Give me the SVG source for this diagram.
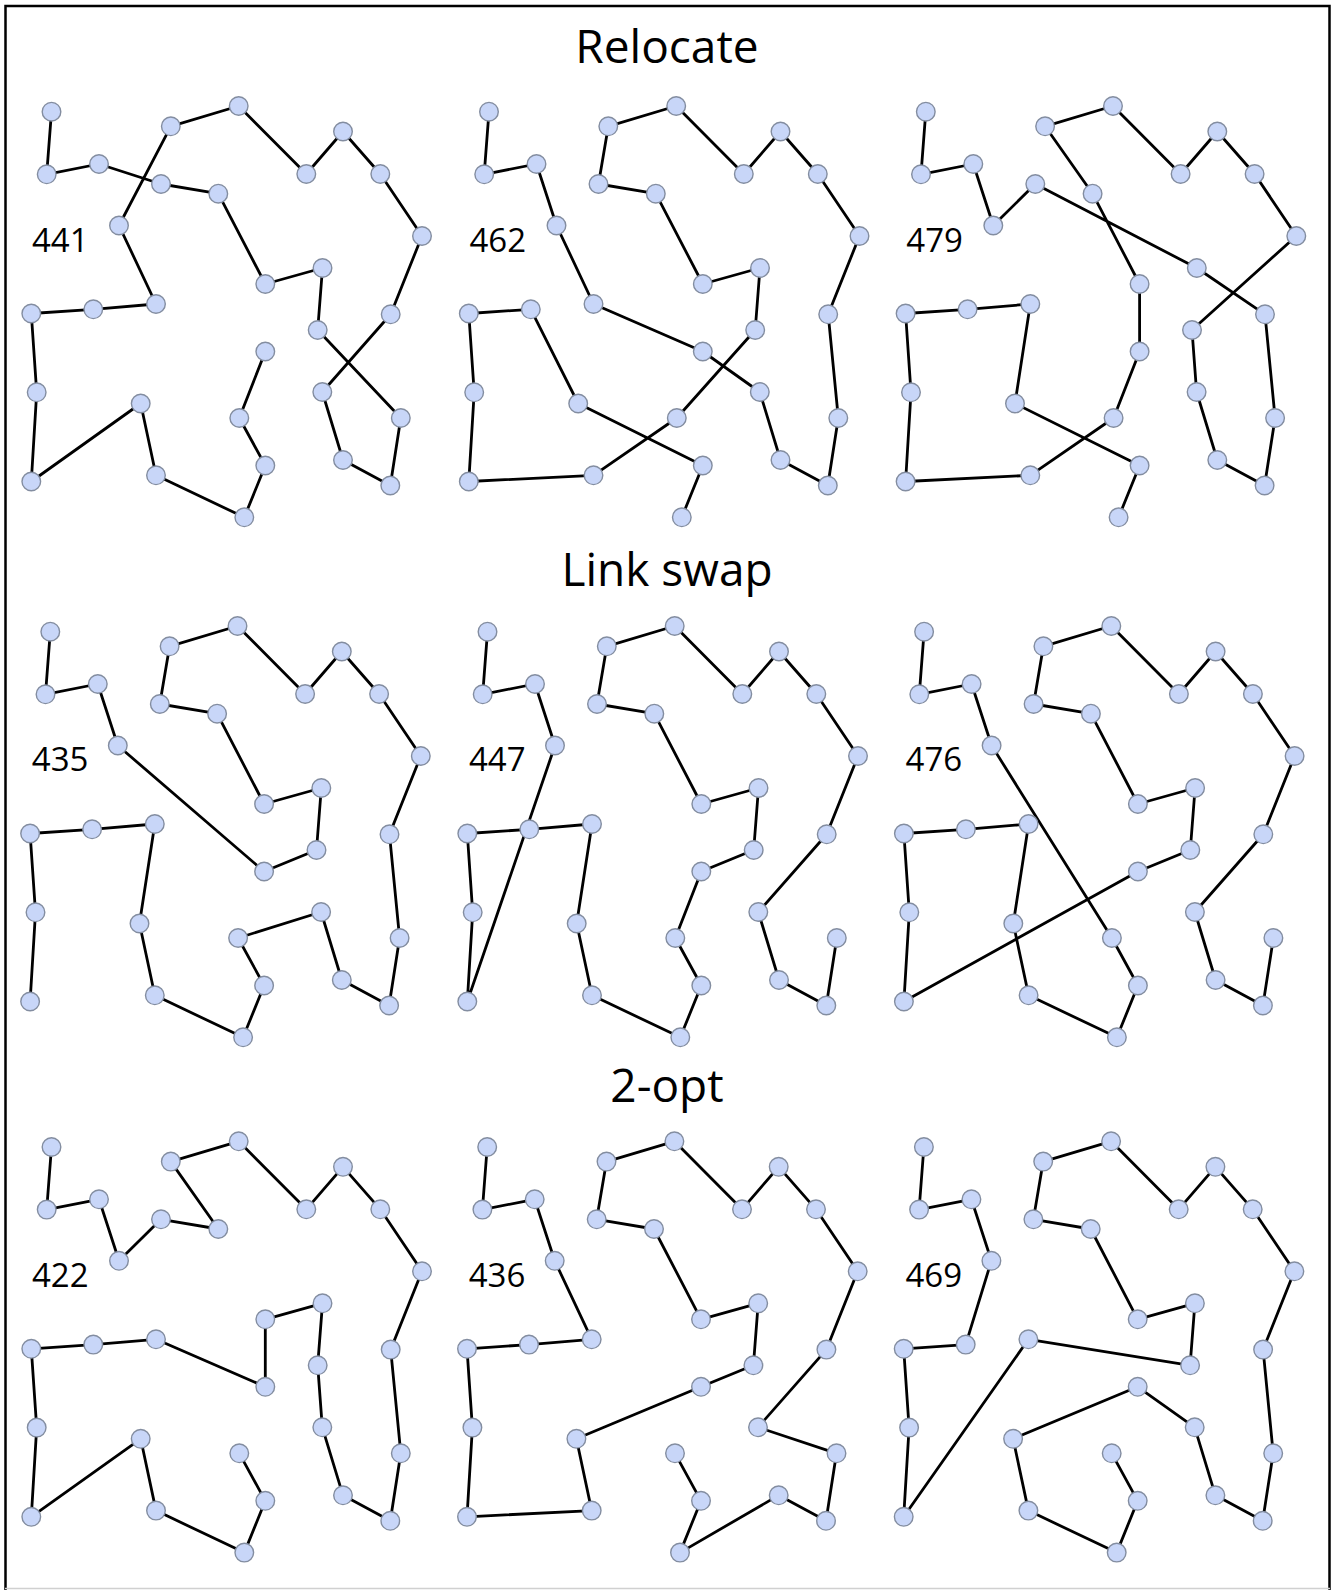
<svg xmlns="http://www.w3.org/2000/svg" width="1333" height="1590" viewBox="0 0 1333 1590">
<style>
.e{fill:none;stroke:#000;stroke-width:2.8;stroke-linejoin:round;stroke-linecap:round}
.n circle{fill:#c8d6f8;stroke:#838da0;stroke-width:1.4}
.t{font-family:"Open Sans","Liberation Sans",sans-serif;font-size:46px;fill:#000;text-anchor:middle}
.l{font-family:"Open Sans","Liberation Sans",sans-serif;font-size:33px;fill:#000}
.b{stroke:#000;stroke-width:2.5;fill:none}
</style>
<rect width="1333" height="1590" fill="#fff"/>
<g id="border">
<path class="b" d="M5.5,1590 V6 H1329.5 V1590"/>
<line x1="5" y1="1588.5" x2="1330" y2="1588.5" stroke="#d0d0d0" stroke-width="1.5"/>
</g>
<text class="t" x="667" y="63">Relocate</text>
<text class="t" x="667" y="586">Link swap</text>
<text class="t" x="667" y="1102">2-opt</text>

<g id="p11" transform="translate(0,0)">
<g id="p11-connectors"><polyline class="e" points="51.5,111.7 46.7,174.3 99,164 161,184 218.3,193.7 265.3,284 322.5,268 317.7,330 400.8,418 390.3,485.5 343,460 322.3,392 390.7,314.3 422,236 380.3,174 343,131.5 306.3,174 238.7,106 170.8,126.3 119,225.5 156,304 93.3,309.3 31.3,313.5 36.7,392.3 31.3,481.5 140.7,403.5 156,475.3 244.3,517.3 265.3,465.5 239.3,418 265.3,351.5"/></g>
<g class="n">
<g id="p11-A"><circle cx="51.5" cy="111.7" r="9.3"/></g><g id="p11-B"><circle cx="46.7" cy="174.3" r="9.3"/></g><g id="p11-C"><circle cx="99" cy="164" r="9.3"/></g><g id="p11-D"><circle cx="161" cy="184" r="9.3"/></g><g id="p11-E"><circle cx="218.3" cy="193.7" r="9.3"/></g><g id="p11-F"><circle cx="265.3" cy="284" r="9.3"/></g><g id="p11-G"><circle cx="322.5" cy="268" r="9.3"/></g><g id="p11-H"><circle cx="317.7" cy="330" r="9.3"/></g><g id="p11-I"><circle cx="400.8" cy="418" r="9.3"/></g><g id="p11-J"><circle cx="390.3" cy="485.5" r="9.3"/></g><g id="p11-K"><circle cx="343" cy="460" r="9.3"/></g><g id="p11-L"><circle cx="322.3" cy="392" r="9.3"/></g><g id="p11-M"><circle cx="390.7" cy="314.3" r="9.3"/></g><g id="p11-N"><circle cx="422" cy="236" r="9.3"/></g><g id="p11-O"><circle cx="380.3" cy="174" r="9.3"/></g><g id="p11-P"><circle cx="343" cy="131.5" r="9.3"/></g><g id="p11-Q"><circle cx="306.3" cy="174" r="9.3"/></g><g id="p11-R"><circle cx="238.7" cy="106" r="9.3"/></g><g id="p11-S"><circle cx="170.8" cy="126.3" r="9.3"/></g><g id="p11-T"><circle cx="119" cy="225.5" r="9.3"/></g><g id="p11-U"><circle cx="156" cy="304" r="9.3"/></g><g id="p11-V"><circle cx="93.3" cy="309.3" r="9.3"/></g><g id="p11-W"><circle cx="31.3" cy="313.5" r="9.3"/></g><g id="p11-X"><circle cx="36.7" cy="392.3" r="9.3"/></g><g id="p11-Y"><circle cx="31.3" cy="481.5" r="9.3"/></g><g id="p11-Z"><circle cx="140.7" cy="403.5" r="9.3"/></g><g id="p11-AA"><circle cx="156" cy="475.3" r="9.3"/></g><g id="p11-AB"><circle cx="244.3" cy="517.3" r="9.3"/></g><g id="p11-AC"><circle cx="265.3" cy="465.5" r="9.3"/></g><g id="p11-AD"><circle cx="239.3" cy="418" r="9.3"/></g><g id="p11-AE"><circle cx="265.3" cy="351.5" r="9.3"/></g>
</g>
<text class="l" x="32" y="251.5">441</text>
</g>

<g id="p12" transform="translate(437.5,0)">
<g id="p12-connectors"><polyline class="e" points="51.5,111.7 46.7,174.3 99,164 119,225.5 156,304 265.3,351.5 322.3,392 343,460 390.3,485.5 400.8,418 390.7,314.3 422,236 380.3,174 343,131.5 306.3,174 238.7,106 170.8,126.3 161,184 218.3,193.7 265.3,284 322.5,268 317.7,330 239.3,418 156,475.3 31.3,481.5 36.7,392.3 31.3,313.5 93.3,309.3 140.7,403.5 265.3,465.5 244.3,517.3"/></g>
<g class="n">
<g id="p12-A"><circle cx="51.5" cy="111.7" r="9.3"/></g><g id="p12-B"><circle cx="46.7" cy="174.3" r="9.3"/></g><g id="p12-C"><circle cx="99" cy="164" r="9.3"/></g><g id="p12-D"><circle cx="161" cy="184" r="9.3"/></g><g id="p12-E"><circle cx="218.3" cy="193.7" r="9.3"/></g><g id="p12-F"><circle cx="265.3" cy="284" r="9.3"/></g><g id="p12-G"><circle cx="322.5" cy="268" r="9.3"/></g><g id="p12-H"><circle cx="317.7" cy="330" r="9.3"/></g><g id="p12-I"><circle cx="400.8" cy="418" r="9.3"/></g><g id="p12-J"><circle cx="390.3" cy="485.5" r="9.3"/></g><g id="p12-K"><circle cx="343" cy="460" r="9.3"/></g><g id="p12-L"><circle cx="322.3" cy="392" r="9.3"/></g><g id="p12-M"><circle cx="390.7" cy="314.3" r="9.3"/></g><g id="p12-N"><circle cx="422" cy="236" r="9.3"/></g><g id="p12-O"><circle cx="380.3" cy="174" r="9.3"/></g><g id="p12-P"><circle cx="343" cy="131.5" r="9.3"/></g><g id="p12-Q"><circle cx="306.3" cy="174" r="9.3"/></g><g id="p12-R"><circle cx="238.7" cy="106" r="9.3"/></g><g id="p12-S"><circle cx="170.8" cy="126.3" r="9.3"/></g><g id="p12-T"><circle cx="119" cy="225.5" r="9.3"/></g><g id="p12-U"><circle cx="156" cy="304" r="9.3"/></g><g id="p12-V"><circle cx="93.3" cy="309.3" r="9.3"/></g><g id="p12-W"><circle cx="31.3" cy="313.5" r="9.3"/></g><g id="p12-X"><circle cx="36.7" cy="392.3" r="9.3"/></g><g id="p12-Y"><circle cx="31.3" cy="481.5" r="9.3"/></g><g id="p12-Z"><circle cx="140.7" cy="403.5" r="9.3"/></g><g id="p12-AA"><circle cx="156" cy="475.3" r="9.3"/></g><g id="p12-AB"><circle cx="244.3" cy="517.3" r="9.3"/></g><g id="p12-AC"><circle cx="265.3" cy="465.5" r="9.3"/></g><g id="p12-AD"><circle cx="239.3" cy="418" r="9.3"/></g><g id="p12-AE"><circle cx="265.3" cy="351.5" r="9.3"/></g>
</g>
<text class="l" x="32" y="251.5">462</text>
</g>

<g id="p13" transform="translate(874.3,0)">
<g id="p13-connectors"><polyline class="e" points="51.5,111.7 46.7,174.3 99,164 119,225.5 161,184 322.5,268 390.7,314.3 400.8,418 390.3,485.5 343,460 322.3,392 317.7,330 422,236 380.3,174 343,131.5 306.3,174 238.7,106 170.8,126.3 218.3,193.7 265.3,284 265.3,351.5 239.3,418 156,475.3 31.3,481.5 36.7,392.3 31.3,313.5 93.3,309.3 156,304 140.7,403.5 265.3,465.5 244.3,517.3"/></g>
<g class="n">
<g id="p13-A"><circle cx="51.5" cy="111.7" r="9.3"/></g><g id="p13-B"><circle cx="46.7" cy="174.3" r="9.3"/></g><g id="p13-C"><circle cx="99" cy="164" r="9.3"/></g><g id="p13-D"><circle cx="161" cy="184" r="9.3"/></g><g id="p13-E"><circle cx="218.3" cy="193.7" r="9.3"/></g><g id="p13-F"><circle cx="265.3" cy="284" r="9.3"/></g><g id="p13-G"><circle cx="322.5" cy="268" r="9.3"/></g><g id="p13-H"><circle cx="317.7" cy="330" r="9.3"/></g><g id="p13-I"><circle cx="400.8" cy="418" r="9.3"/></g><g id="p13-J"><circle cx="390.3" cy="485.5" r="9.3"/></g><g id="p13-K"><circle cx="343" cy="460" r="9.3"/></g><g id="p13-L"><circle cx="322.3" cy="392" r="9.3"/></g><g id="p13-M"><circle cx="390.7" cy="314.3" r="9.3"/></g><g id="p13-N"><circle cx="422" cy="236" r="9.3"/></g><g id="p13-O"><circle cx="380.3" cy="174" r="9.3"/></g><g id="p13-P"><circle cx="343" cy="131.5" r="9.3"/></g><g id="p13-Q"><circle cx="306.3" cy="174" r="9.3"/></g><g id="p13-R"><circle cx="238.7" cy="106" r="9.3"/></g><g id="p13-S"><circle cx="170.8" cy="126.3" r="9.3"/></g><g id="p13-T"><circle cx="119" cy="225.5" r="9.3"/></g><g id="p13-U"><circle cx="156" cy="304" r="9.3"/></g><g id="p13-V"><circle cx="93.3" cy="309.3" r="9.3"/></g><g id="p13-W"><circle cx="31.3" cy="313.5" r="9.3"/></g><g id="p13-X"><circle cx="36.7" cy="392.3" r="9.3"/></g><g id="p13-Y"><circle cx="31.3" cy="481.5" r="9.3"/></g><g id="p13-Z"><circle cx="140.7" cy="403.5" r="9.3"/></g><g id="p13-AA"><circle cx="156" cy="475.3" r="9.3"/></g><g id="p13-AB"><circle cx="244.3" cy="517.3" r="9.3"/></g><g id="p13-AC"><circle cx="265.3" cy="465.5" r="9.3"/></g><g id="p13-AD"><circle cx="239.3" cy="418" r="9.3"/></g><g id="p13-AE"><circle cx="265.3" cy="351.5" r="9.3"/></g>
</g>
<text class="l" x="32" y="251.5">479</text>
</g>

<g id="p21" transform="translate(-1.2,520)">
<g id="p21-connectors"><polyline class="e" points="51.5,111.7 46.7,174.3 99,164 119,225.5 265.3,351.5 317.7,330 322.5,268 265.3,284 218.3,193.7 161,184 170.8,126.3 238.7,106 306.3,174 343,131.5 380.3,174 422,236 390.7,314.3 400.8,418 390.3,485.5 343,460 322.3,392 239.3,418 265.3,465.5 244.3,517.3 156,475.3 140.7,403.5 156,304 93.3,309.3 31.3,313.5 36.7,392.3 31.3,481.5"/></g>
<g class="n">
<g id="p21-A"><circle cx="51.5" cy="111.7" r="9.3"/></g><g id="p21-B"><circle cx="46.7" cy="174.3" r="9.3"/></g><g id="p21-C"><circle cx="99" cy="164" r="9.3"/></g><g id="p21-D"><circle cx="161" cy="184" r="9.3"/></g><g id="p21-E"><circle cx="218.3" cy="193.7" r="9.3"/></g><g id="p21-F"><circle cx="265.3" cy="284" r="9.3"/></g><g id="p21-G"><circle cx="322.5" cy="268" r="9.3"/></g><g id="p21-H"><circle cx="317.7" cy="330" r="9.3"/></g><g id="p21-I"><circle cx="400.8" cy="418" r="9.3"/></g><g id="p21-J"><circle cx="390.3" cy="485.5" r="9.3"/></g><g id="p21-K"><circle cx="343" cy="460" r="9.3"/></g><g id="p21-L"><circle cx="322.3" cy="392" r="9.3"/></g><g id="p21-M"><circle cx="390.7" cy="314.3" r="9.3"/></g><g id="p21-N"><circle cx="422" cy="236" r="9.3"/></g><g id="p21-O"><circle cx="380.3" cy="174" r="9.3"/></g><g id="p21-P"><circle cx="343" cy="131.5" r="9.3"/></g><g id="p21-Q"><circle cx="306.3" cy="174" r="9.3"/></g><g id="p21-R"><circle cx="238.7" cy="106" r="9.3"/></g><g id="p21-S"><circle cx="170.8" cy="126.3" r="9.3"/></g><g id="p21-T"><circle cx="119" cy="225.5" r="9.3"/></g><g id="p21-U"><circle cx="156" cy="304" r="9.3"/></g><g id="p21-V"><circle cx="93.3" cy="309.3" r="9.3"/></g><g id="p21-W"><circle cx="31.3" cy="313.5" r="9.3"/></g><g id="p21-X"><circle cx="36.7" cy="392.3" r="9.3"/></g><g id="p21-Y"><circle cx="31.3" cy="481.5" r="9.3"/></g><g id="p21-Z"><circle cx="140.7" cy="403.5" r="9.3"/></g><g id="p21-AA"><circle cx="156" cy="475.3" r="9.3"/></g><g id="p21-AB"><circle cx="244.3" cy="517.3" r="9.3"/></g><g id="p21-AC"><circle cx="265.3" cy="465.5" r="9.3"/></g><g id="p21-AD"><circle cx="239.3" cy="418" r="9.3"/></g><g id="p21-AE"><circle cx="265.3" cy="351.5" r="9.3"/></g>
</g>
<text class="l" x="33" y="251">435</text>
</g>

<g id="p22" transform="translate(436,520)">
<g id="p22-connectors"><polyline class="e" points="51.5,111.7 46.7,174.3 99,164 119,225.5 31.3,481.5 36.7,392.3 31.3,313.5 93.3,309.3 156,304 140.7,403.5 156,475.3 244.3,517.3 265.3,465.5 239.3,418 265.3,351.5 317.7,330 322.5,268 265.3,284 218.3,193.7 161,184 170.8,126.3 238.7,106 306.3,174 343,131.5 380.3,174 422,236 390.7,314.3 322.3,392 343,460 390.3,485.5 400.8,418"/></g>
<g class="n">
<g id="p22-A"><circle cx="51.5" cy="111.7" r="9.3"/></g><g id="p22-B"><circle cx="46.7" cy="174.3" r="9.3"/></g><g id="p22-C"><circle cx="99" cy="164" r="9.3"/></g><g id="p22-D"><circle cx="161" cy="184" r="9.3"/></g><g id="p22-E"><circle cx="218.3" cy="193.7" r="9.3"/></g><g id="p22-F"><circle cx="265.3" cy="284" r="9.3"/></g><g id="p22-G"><circle cx="322.5" cy="268" r="9.3"/></g><g id="p22-H"><circle cx="317.7" cy="330" r="9.3"/></g><g id="p22-I"><circle cx="400.8" cy="418" r="9.3"/></g><g id="p22-J"><circle cx="390.3" cy="485.5" r="9.3"/></g><g id="p22-K"><circle cx="343" cy="460" r="9.3"/></g><g id="p22-L"><circle cx="322.3" cy="392" r="9.3"/></g><g id="p22-M"><circle cx="390.7" cy="314.3" r="9.3"/></g><g id="p22-N"><circle cx="422" cy="236" r="9.3"/></g><g id="p22-O"><circle cx="380.3" cy="174" r="9.3"/></g><g id="p22-P"><circle cx="343" cy="131.5" r="9.3"/></g><g id="p22-Q"><circle cx="306.3" cy="174" r="9.3"/></g><g id="p22-R"><circle cx="238.7" cy="106" r="9.3"/></g><g id="p22-S"><circle cx="170.8" cy="126.3" r="9.3"/></g><g id="p22-T"><circle cx="119" cy="225.5" r="9.3"/></g><g id="p22-U"><circle cx="156" cy="304" r="9.3"/></g><g id="p22-V"><circle cx="93.3" cy="309.3" r="9.3"/></g><g id="p22-W"><circle cx="31.3" cy="313.5" r="9.3"/></g><g id="p22-X"><circle cx="36.7" cy="392.3" r="9.3"/></g><g id="p22-Y"><circle cx="31.3" cy="481.5" r="9.3"/></g><g id="p22-Z"><circle cx="140.7" cy="403.5" r="9.3"/></g><g id="p22-AA"><circle cx="156" cy="475.3" r="9.3"/></g><g id="p22-AB"><circle cx="244.3" cy="517.3" r="9.3"/></g><g id="p22-AC"><circle cx="265.3" cy="465.5" r="9.3"/></g><g id="p22-AD"><circle cx="239.3" cy="418" r="9.3"/></g><g id="p22-AE"><circle cx="265.3" cy="351.5" r="9.3"/></g>
</g>
<text class="l" x="33" y="251">447</text>
</g>

<g id="p23" transform="translate(872.6,520)">
<g id="p23-connectors"><polyline class="e" points="51.5,111.7 46.7,174.3 99,164 119,225.5 239.3,418 265.3,465.5 244.3,517.3 156,475.3 140.7,403.5 156,304 93.3,309.3 31.3,313.5 36.7,392.3 31.3,481.5 265.3,351.5 317.7,330 322.5,268 265.3,284 218.3,193.7 161,184 170.8,126.3 238.7,106 306.3,174 343,131.5 380.3,174 422,236 390.7,314.3 322.3,392 343,460 390.3,485.5 400.8,418"/></g>
<g class="n">
<g id="p23-A"><circle cx="51.5" cy="111.7" r="9.3"/></g><g id="p23-B"><circle cx="46.7" cy="174.3" r="9.3"/></g><g id="p23-C"><circle cx="99" cy="164" r="9.3"/></g><g id="p23-D"><circle cx="161" cy="184" r="9.3"/></g><g id="p23-E"><circle cx="218.3" cy="193.7" r="9.3"/></g><g id="p23-F"><circle cx="265.3" cy="284" r="9.3"/></g><g id="p23-G"><circle cx="322.5" cy="268" r="9.3"/></g><g id="p23-H"><circle cx="317.7" cy="330" r="9.3"/></g><g id="p23-I"><circle cx="400.8" cy="418" r="9.3"/></g><g id="p23-J"><circle cx="390.3" cy="485.5" r="9.3"/></g><g id="p23-K"><circle cx="343" cy="460" r="9.3"/></g><g id="p23-L"><circle cx="322.3" cy="392" r="9.3"/></g><g id="p23-M"><circle cx="390.7" cy="314.3" r="9.3"/></g><g id="p23-N"><circle cx="422" cy="236" r="9.3"/></g><g id="p23-O"><circle cx="380.3" cy="174" r="9.3"/></g><g id="p23-P"><circle cx="343" cy="131.5" r="9.3"/></g><g id="p23-Q"><circle cx="306.3" cy="174" r="9.3"/></g><g id="p23-R"><circle cx="238.7" cy="106" r="9.3"/></g><g id="p23-S"><circle cx="170.8" cy="126.3" r="9.3"/></g><g id="p23-T"><circle cx="119" cy="225.5" r="9.3"/></g><g id="p23-U"><circle cx="156" cy="304" r="9.3"/></g><g id="p23-V"><circle cx="93.3" cy="309.3" r="9.3"/></g><g id="p23-W"><circle cx="31.3" cy="313.5" r="9.3"/></g><g id="p23-X"><circle cx="36.7" cy="392.3" r="9.3"/></g><g id="p23-Y"><circle cx="31.3" cy="481.5" r="9.3"/></g><g id="p23-Z"><circle cx="140.7" cy="403.5" r="9.3"/></g><g id="p23-AA"><circle cx="156" cy="475.3" r="9.3"/></g><g id="p23-AB"><circle cx="244.3" cy="517.3" r="9.3"/></g><g id="p23-AC"><circle cx="265.3" cy="465.5" r="9.3"/></g><g id="p23-AD"><circle cx="239.3" cy="418" r="9.3"/></g><g id="p23-AE"><circle cx="265.3" cy="351.5" r="9.3"/></g>
</g>
<text class="l" x="33" y="251">476</text>
</g>

<g id="p31" transform="translate(0,1035.3)">
<g id="p31-connectors"><polyline class="e" points="51.5,111.7 46.7,174.3 99,164 119,225.5 161,184 218.3,193.7 170.8,126.3 238.7,106 306.3,174 343,131.5 380.3,174 422,236 390.7,314.3 400.8,418 390.3,485.5 343,460 322.3,392 317.7,330 322.5,268 265.3,284 265.3,351.5 156,304 93.3,309.3 31.3,313.5 36.7,392.3 31.3,481.5 140.7,403.5 156,475.3 244.3,517.3 265.3,465.5 239.3,418"/></g>
<g class="n">
<g id="p31-A"><circle cx="51.5" cy="111.7" r="9.3"/></g><g id="p31-B"><circle cx="46.7" cy="174.3" r="9.3"/></g><g id="p31-C"><circle cx="99" cy="164" r="9.3"/></g><g id="p31-D"><circle cx="161" cy="184" r="9.3"/></g><g id="p31-E"><circle cx="218.3" cy="193.7" r="9.3"/></g><g id="p31-F"><circle cx="265.3" cy="284" r="9.3"/></g><g id="p31-G"><circle cx="322.5" cy="268" r="9.3"/></g><g id="p31-H"><circle cx="317.7" cy="330" r="9.3"/></g><g id="p31-I"><circle cx="400.8" cy="418" r="9.3"/></g><g id="p31-J"><circle cx="390.3" cy="485.5" r="9.3"/></g><g id="p31-K"><circle cx="343" cy="460" r="9.3"/></g><g id="p31-L"><circle cx="322.3" cy="392" r="9.3"/></g><g id="p31-M"><circle cx="390.7" cy="314.3" r="9.3"/></g><g id="p31-N"><circle cx="422" cy="236" r="9.3"/></g><g id="p31-O"><circle cx="380.3" cy="174" r="9.3"/></g><g id="p31-P"><circle cx="343" cy="131.5" r="9.3"/></g><g id="p31-Q"><circle cx="306.3" cy="174" r="9.3"/></g><g id="p31-R"><circle cx="238.7" cy="106" r="9.3"/></g><g id="p31-S"><circle cx="170.8" cy="126.3" r="9.3"/></g><g id="p31-T"><circle cx="119" cy="225.5" r="9.3"/></g><g id="p31-U"><circle cx="156" cy="304" r="9.3"/></g><g id="p31-V"><circle cx="93.3" cy="309.3" r="9.3"/></g><g id="p31-W"><circle cx="31.3" cy="313.5" r="9.3"/></g><g id="p31-X"><circle cx="36.7" cy="392.3" r="9.3"/></g><g id="p31-Y"><circle cx="31.3" cy="481.5" r="9.3"/></g><g id="p31-Z"><circle cx="140.7" cy="403.5" r="9.3"/></g><g id="p31-AA"><circle cx="156" cy="475.3" r="9.3"/></g><g id="p31-AB"><circle cx="244.3" cy="517.3" r="9.3"/></g><g id="p31-AC"><circle cx="265.3" cy="465.5" r="9.3"/></g><g id="p31-AD"><circle cx="239.3" cy="418" r="9.3"/></g><g id="p31-AE"><circle cx="265.3" cy="351.5" r="9.3"/></g>
</g>
<text class="l" x="32" y="251.5">422</text>
</g>

<g id="p32" transform="translate(435.7,1035.3)">
<g id="p32-connectors"><polyline class="e" points="51.5,111.7 46.7,174.3 99,164 119,225.5 156,304 93.3,309.3 31.3,313.5 36.7,392.3 31.3,481.5 156,475.3 140.7,403.5 265.3,351.5 317.7,330 322.5,268 265.3,284 218.3,193.7 161,184 170.8,126.3 238.7,106 306.3,174 343,131.5 380.3,174 422,236 390.7,314.3 322.3,392 400.8,418 390.3,485.5 343,460 244.3,517.3 265.3,465.5 239.3,418"/></g>
<g class="n">
<g id="p32-A"><circle cx="51.5" cy="111.7" r="9.3"/></g><g id="p32-B"><circle cx="46.7" cy="174.3" r="9.3"/></g><g id="p32-C"><circle cx="99" cy="164" r="9.3"/></g><g id="p32-D"><circle cx="161" cy="184" r="9.3"/></g><g id="p32-E"><circle cx="218.3" cy="193.7" r="9.3"/></g><g id="p32-F"><circle cx="265.3" cy="284" r="9.3"/></g><g id="p32-G"><circle cx="322.5" cy="268" r="9.3"/></g><g id="p32-H"><circle cx="317.7" cy="330" r="9.3"/></g><g id="p32-I"><circle cx="400.8" cy="418" r="9.3"/></g><g id="p32-J"><circle cx="390.3" cy="485.5" r="9.3"/></g><g id="p32-K"><circle cx="343" cy="460" r="9.3"/></g><g id="p32-L"><circle cx="322.3" cy="392" r="9.3"/></g><g id="p32-M"><circle cx="390.7" cy="314.3" r="9.3"/></g><g id="p32-N"><circle cx="422" cy="236" r="9.3"/></g><g id="p32-O"><circle cx="380.3" cy="174" r="9.3"/></g><g id="p32-P"><circle cx="343" cy="131.5" r="9.3"/></g><g id="p32-Q"><circle cx="306.3" cy="174" r="9.3"/></g><g id="p32-R"><circle cx="238.7" cy="106" r="9.3"/></g><g id="p32-S"><circle cx="170.8" cy="126.3" r="9.3"/></g><g id="p32-T"><circle cx="119" cy="225.5" r="9.3"/></g><g id="p32-U"><circle cx="156" cy="304" r="9.3"/></g><g id="p32-V"><circle cx="93.3" cy="309.3" r="9.3"/></g><g id="p32-W"><circle cx="31.3" cy="313.5" r="9.3"/></g><g id="p32-X"><circle cx="36.7" cy="392.3" r="9.3"/></g><g id="p32-Y"><circle cx="31.3" cy="481.5" r="9.3"/></g><g id="p32-Z"><circle cx="140.7" cy="403.5" r="9.3"/></g><g id="p32-AA"><circle cx="156" cy="475.3" r="9.3"/></g><g id="p32-AB"><circle cx="244.3" cy="517.3" r="9.3"/></g><g id="p32-AC"><circle cx="265.3" cy="465.5" r="9.3"/></g><g id="p32-AD"><circle cx="239.3" cy="418" r="9.3"/></g><g id="p32-AE"><circle cx="265.3" cy="351.5" r="9.3"/></g>
</g>
<text class="l" x="33" y="251.5">436</text>
</g>

<g id="p33" transform="translate(872.4,1035.3)">
<g id="p33-connectors"><polyline class="e" points="51.5,111.7 46.7,174.3 99,164 119,225.5 93.3,309.3 31.3,313.5 36.7,392.3 31.3,481.5 156,304 317.7,330 322.5,268 265.3,284 218.3,193.7 161,184 170.8,126.3 238.7,106 306.3,174 343,131.5 380.3,174 422,236 390.7,314.3 400.8,418 390.3,485.5 343,460 322.3,392 265.3,351.5 140.7,403.5 156,475.3 244.3,517.3 265.3,465.5 239.3,418"/></g>
<g class="n">
<g id="p33-A"><circle cx="51.5" cy="111.7" r="9.3"/></g><g id="p33-B"><circle cx="46.7" cy="174.3" r="9.3"/></g><g id="p33-C"><circle cx="99" cy="164" r="9.3"/></g><g id="p33-D"><circle cx="161" cy="184" r="9.3"/></g><g id="p33-E"><circle cx="218.3" cy="193.7" r="9.3"/></g><g id="p33-F"><circle cx="265.3" cy="284" r="9.3"/></g><g id="p33-G"><circle cx="322.5" cy="268" r="9.3"/></g><g id="p33-H"><circle cx="317.7" cy="330" r="9.3"/></g><g id="p33-I"><circle cx="400.8" cy="418" r="9.3"/></g><g id="p33-J"><circle cx="390.3" cy="485.5" r="9.3"/></g><g id="p33-K"><circle cx="343" cy="460" r="9.3"/></g><g id="p33-L"><circle cx="322.3" cy="392" r="9.3"/></g><g id="p33-M"><circle cx="390.7" cy="314.3" r="9.3"/></g><g id="p33-N"><circle cx="422" cy="236" r="9.3"/></g><g id="p33-O"><circle cx="380.3" cy="174" r="9.3"/></g><g id="p33-P"><circle cx="343" cy="131.5" r="9.3"/></g><g id="p33-Q"><circle cx="306.3" cy="174" r="9.3"/></g><g id="p33-R"><circle cx="238.7" cy="106" r="9.3"/></g><g id="p33-S"><circle cx="170.8" cy="126.3" r="9.3"/></g><g id="p33-T"><circle cx="119" cy="225.5" r="9.3"/></g><g id="p33-U"><circle cx="156" cy="304" r="9.3"/></g><g id="p33-V"><circle cx="93.3" cy="309.3" r="9.3"/></g><g id="p33-W"><circle cx="31.3" cy="313.5" r="9.3"/></g><g id="p33-X"><circle cx="36.7" cy="392.3" r="9.3"/></g><g id="p33-Y"><circle cx="31.3" cy="481.5" r="9.3"/></g><g id="p33-Z"><circle cx="140.7" cy="403.5" r="9.3"/></g><g id="p33-AA"><circle cx="156" cy="475.3" r="9.3"/></g><g id="p33-AB"><circle cx="244.3" cy="517.3" r="9.3"/></g><g id="p33-AC"><circle cx="265.3" cy="465.5" r="9.3"/></g><g id="p33-AD"><circle cx="239.3" cy="418" r="9.3"/></g><g id="p33-AE"><circle cx="265.3" cy="351.5" r="9.3"/></g>
</g>
<text class="l" x="33" y="251.5">469</text>
</g>
</svg>
